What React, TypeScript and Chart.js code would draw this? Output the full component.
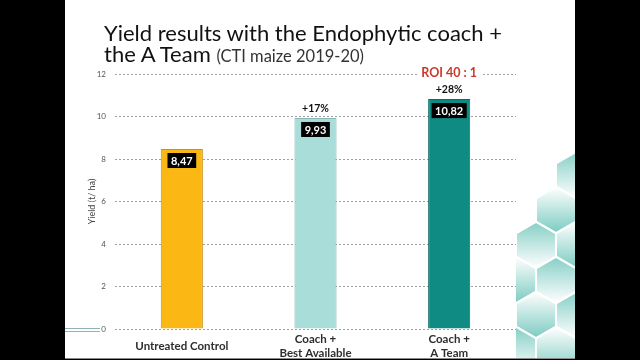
import React, { useEffect, useRef } from 'react';
import { Chart, registerables } from 'chart.js';

Chart.register(...registerables);

// ---- data ----
const categories: string[][] = [['Untreated Control'], ['Coach +', 'Best Available'], ['Coach +', 'A Team']];
const yieldValues: number[] = [8.47, 9.93, 10.82];
const valueLabels: string[] = ['8,47', '9,93', '10,82'];
const increaseLabels: string[] = ['', '+17%', '+28%'];
const roiLabel = 'ROI 40 : 1';
const roiIndex = 2;
const barColors: string[] = ['#FBB714', '#A8DDDA', '#0F8B84'];
const barBorders: string[] = ['#C8921A', '#86B5B2', '#0A6B65'];
const yMin = 0;
const yMax = 12;
const yStep = 2;
const yAxisTitle = 'Yield (t/ ha)';
const titleLine1 = 'Yield results with the Endophytic coach +';
const titleLine2 = 'the A Team';
const titleNote = '(CTI maize 2019-20)';

const FONT = 'Lato, "Open Sans", sans-serif';

const barLabelsPlugin = {
  id: 'barLabels',
  afterDatasetsDraw(chart: any) {
    const ctx = chart.ctx as CanvasRenderingContext2D;
    const meta = chart.getDatasetMeta(0);
    meta.data.forEach((bar: any, i: number) => {
      const x = bar.x;
      const y = bar.y;
      ctx.save();
      ctx.textAlign = 'center';
      ctx.textBaseline = 'middle';
      // value box
      ctx.font = `bold 11px ${FONT}`;
      const t = valueLabels[i];
      const w = ctx.measureText(t).width + 7;
      const h = 15;
      ctx.fillStyle = '#000';
      ctx.fillRect(x - w / 2, y + 4, w, h);
      ctx.fillStyle = '#fff';
      ctx.fillText(t, x, y + 4 + h / 2 + 0.5);
      // increase label
      if (increaseLabels[i]) {
        ctx.font = `bold 10.5px ${FONT}`;
        ctx.fillStyle = '#111';
        ctx.fillText(increaseLabels[i], x, y - 9);
      }
      if (i === roiIndex) {
        ctx.font = `bold 12.5px ${FONT}`;
        const rw = ctx.measureText(roiLabel).width + 8;
        const ry = chart.scales.y.getPixelForValue(yMax) - 1;
        ctx.fillStyle = '#fff';
        ctx.fillRect(x - rw / 2, ry - 8, rw, 16);
        ctx.fillStyle = '#C93A2A';
        ctx.fillText(roiLabel, x, ry);
      }
      ctx.restore();
    });
  },
};

function hexPoints(cx: number, cy: number, r: number): string {
  const pts: string[] = [];
  for (let k = 0; k < 6; k++) {
    const a = (Math.PI / 180) * (-90 + 60 * k);
    pts.push(`${(cx + r * Math.cos(a)).toFixed(1)},${(cy + r * Math.sin(a)).toFixed(1)}`);
  }
  return pts.join(' ');
}

const hexCells: [number, number, number][] = [
  [576, 175, 0],
  [556, 210, 1],
  [536, 245, 0],
  [576, 245, 1],
  [516, 280, 1],
  [556, 280, 0],
  [536, 315, 1],
  [576, 315, 0],
  [516, 350, 0],
  [556, 350, 1],
];

function Decoration() {
  return (
    <svg width={640} height={360} style={{ position: 'absolute', left: 0, top: 0 }}>
      <defs>
        <clipPath id="hexclip">
          <rect x={516} y={0} width={59} height={358} />
        </clipPath>
        <linearGradient id="gA" x1="0" y1="0" x2="0" y2="1">
          <stop offset="0" stopColor="#86cfc6" />
          <stop offset="1" stopColor="#ffffff" />
        </linearGradient>
        <linearGradient id="gB" x1="0" y1="0" x2="0" y2="1">
          <stop offset="0" stopColor="#ffffff" />
          <stop offset="1" stopColor="#7ccbc1" />
        </linearGradient>
      </defs>
      <g clipPath="url(#hexclip)">
        {hexCells.map(([cx, cy, g], i) => (
          <polygon
            key={i}
            points={hexPoints(cx, cy, 23.1)}
            fill={g === 0 ? 'url(#gA)' : 'url(#gB)'}
            stroke="#ffffff"
            strokeWidth={2}
          />
        ))}
      </g>
    </svg>
  );
}

export default function App() {
  const canvasRef = useRef<HTMLCanvasElement | null>(null);

  useEffect(() => {
    if (!canvasRef.current) return;
    const chart = new Chart(canvasRef.current, {
      type: 'bar',
      data: {
        labels: categories,
        datasets: [
          {
            data: yieldValues,
            backgroundColor: barColors,
            borderColor: barBorders,
            borderWidth: 1,
            barPercentage: 0.315,
            categoryPercentage: 1,
          },
        ],
      },
      options: {
        responsive: false,
        animation: false,
        events: [],
        layout: { padding: { left: 65, right: 124, top: 74, bottom: 0 } },
        plugins: {
          legend: { display: false },
          tooltip: { enabled: false },
          title: { display: false },
        },
        scales: {
          x: {
            offset: true,
            grid: { display: false },
            border: { display: false },
            afterFit: (s: any) => {
              s.height = 31;
            },
            ticks: {
              color: '#2e2e2e',
              font: { family: FONT, size: 11.5, weight: 'bold' },
              padding: 2,
              crossAlign: 'center',
              maxRotation: 0,
              autoSkip: false,
            },
          },
          y: {
            min: yMin,
            max: yMax,
            afterFit: (s: any) => {
              s.width = 50;
            },
            grid: { color: '#a0a0a0', lineWidth: 1, drawTicks: false },
            border: { display: false, dash: [2, 2] },
            ticks: {
              stepSize: yStep,
              color: '#555',
              padding: 9,
              font: { family: FONT, size: 8 },
            },
            title: {
              display: true,
              text: yAxisTitle,
              color: '#444',
              font: { family: FONT, size: 9 },
              padding: { top: 22, bottom: 0 },
            },
          },
        },
      },
      plugins: [barLabelsPlugin],
    } as any);
    return () => chart.destroy();
  }, []);

  return (
    <div style={{ position: 'absolute', left: 0, top: 0, width: 640, height: 360, background: '#000', overflow: 'hidden' }}>
      <div
        style={{
          position: 'absolute',
          left: 65,
          top: 0,
          width: 510,
          height: 358,
          background: '#fff',
          borderBottom: '1px solid #8a8a8a',
        }}
      />
      <Decoration />
      <div style={{ position: 'absolute', left: 65, top: 328, width: 35, height: 1, background: '#8fb5b2' }} />
      <div style={{ position: 'absolute', left: 65, top: 331, width: 35, height: 1, background: '#8fb5b2' }} />
      <canvas ref={canvasRef} width={640} height={360} style={{ position: 'absolute', left: 0, top: 0 }} />
      <div
        style={{
          position: 'absolute',
          left: 104,
          top: 22,
          fontFamily: FONT,
          fontSize: 22,
          lineHeight: '21px',
          color: '#111',
          whiteSpace: 'nowrap',
        }}
      >
        <div>{titleLine1}</div>
        <div>
          {titleLine2} <span style={{ fontSize: 16.5, color: '#333' }}>{titleNote}</span>
        </div>
      </div>
    </div>
  );
}
